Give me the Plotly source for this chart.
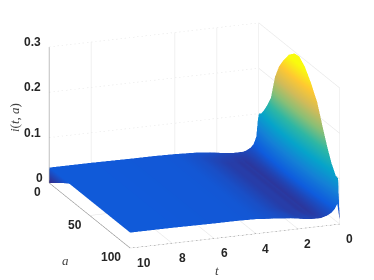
import plotly.graph_objects as go

t_vals = [0, .05, .12, .25, .4, .6, .75, .9, 1.05, 1.2, 1.5, 1.8, 2.3, 3, 4, 5, 6, 8, 9.98, 10]
a_vals = [0, 3, 6, 10, 15, 20, 25, 30, 37, 44, 50, 57, 64, 72, 80, 85, 90, 95, 98, 100]
i_vals = [
 [.100,.105,.115,.132,.157,.210,.240,.260,.283,.296,.298,.285,.262,.230,.177,.146,.119,.100,.098,.003],
 [.085,.090,.100,.115,.140,.180,.205,.222,.242,.252,.254,.243,.224,.197,.153,.127,.105,.090,.088,.022],
 [.050,.055,.062,.072,.087,.108,.122,.132,.143,.150,.150,.144,.133,.117,.094,.080,.068,.060,.056,.045],
 [.034,.036,.038,.042,.047,.054,.060,.064,.068,.071,.071,.068,.064,.058,.049,.044,.040,.037,.035,.034],
 [.027,.027,.027,.028,.030,.032,.033,.034,.036,.037,.037,.036,.035,.033,.030,.029,.028,.027,.027,.027],
 [.022,.020,.019,.018,.018,.018,.018,.019,.019,.019,.019,.019,.019,.019,.019,.019,.020,.021,.022,.022],
 [.020,.016,.014,.013,.013,.013,.013,.013,.013,.013,.013,.013,.013,.013,.013,.014,.015,.017,.019,.020],
 [.020,.014,.011,.009,.009,.009,.009,.009,.009,.009,.009,.009,.009,.009,.009,.010,.012,.015,.017,.018],
 [.020,.015,.013,.012,.012,.012,.012,.012,.012,.012,.012,.012,.012,.012,.012,.012,.013,.015,.017,.018],
 [.020,.014,.012,.010,.010,.010,.010,.010,.010,.010,.010,.010,.010,.010,.010,.011,.013,.016,.017,.018],
 [.021,.017,.015,.014,.014,.014,.014,.014,.014,.014,.014,.014,.014,.014,.014,.015,.016,.018,.019,.019],
 [.023,.018,.016,.014,.014,.014,.014,.014,.014,.014,.014,.014,.014,.014,.014,.015,.016,.018,.020,.021],
 [.027,.023,.020,.019,.019,.019,.019,.019,.019,.019,.019,.019,.019,.019,.019,.020,.022,.023,.024,.025],
 [.030,.027,.026,.026,.026,.026,.026,.026,.026,.026,.026,.026,.026,.026,.026,.026,.027,.027,.028,.028],
 [.032,.032,.032,.032,.032,.032,.032,.032,.032,.032,.032,.032,.032,.032,.032,.032,.032,.032,.032,.032],
 [.033,.033,.033,.033,.033,.033,.033,.033,.033,.033,.033,.033,.033,.033,.033,.033,.033,.033,.033,.033],
 [.033,.033,.033,.033,.033,.033,.033,.033,.033,.033,.033,.033,.033,.033,.033,.033,.033,.033,.033,.033],
 [.034,.034,.034,.034,.034,.034,.034,.034,.034,.034,.034,.034,.034,.034,.034,.034,.034,.034,.034,.034],
 [.034,.034,.034,.034,.034,.034,.034,.034,.034,.034,.034,.034,.034,.034,.034,.034,.034,.034,.034,.034],
 [.000,.004,.008,.014,.021,.028,.034,.034,.034,.034,.034,.034,.034,.034,.034,.034,.034,.034,.034,.034],
]
t_ticks = [0, 2, 4, 6, 8, 10]
t_wall_grid = [2, 4, 8]
a_ticks = [0, 50, 100]
z_ticks = [0, .1, .2, .3]
z_labels = ['0', '0.1', '0.2', '0.3']
parula = ['#352a87','#0f5cdd','#1481d6','#06a4ca','#2eb7a4','#87bf77','#d1bb59','#fec832','#f9fb0e']
cscale = [[k/8, c] for k, c in enumerate(parula)]

fig = go.Figure(go.Surface(x=t_vals, y=a_vals, z=list(map(list, zip(*i_vals))), colorscale=cscale,
    cmin=0, cmax=.28, showscale=False,
    lighting=dict(ambient=1, diffuse=0, specular=0, fresnel=0, roughness=1)))

def seg(x, y, z, color, dash='solid'):
    fig.add_trace(go.Scatter3d(x=x, y=y, z=z, mode='lines', showlegend=False, hoverinfo='skip',
                               line=dict(color=color, width=1, dash=dash)))

GRID = '#e4e4e4'
AXIS = '#7f7f7f'
for v in z_ticks[1:]:
    seg([10, 0], [0, 0], [v, v], GRID, 'dash')
    seg([0, 0], [0, 100], [v, v], GRID)
for v in t_wall_grid:
    seg([v, v], [0, 0], [0, .3], GRID)
seg([0, 0], [100, 100], [0, .3], GRID)
seg([0, 0], [0, 0], [0, .3], GRID)
for v in t_ticks:
    seg([v, v], [0, 100], [0, 0], GRID)
for v in a_ticks:
    seg([0, 10], [v, v], [0, 0], GRID)
seg([10, 10], [0, 0], [0, .3], AXIS)
seg([10, 10], [0, 100], [0, 0], AXIS)
seg([0, 10], [100, 100], [0, 0], AXIS, 'dash')

def ax(**k):
    d = dict(showbackground=False, showgrid=False, showline=False, zeroline=False, ticks='', showspikes=False,
             title='', showticklabels=False)
    d.update(k); return d

lab = dict(showarrow=False, font=dict(family='Liberation Sans', size=12, color='#262626'))
anns = []
for v, s in zip(z_ticks, z_labels):
    anns.append(dict(x=10, y=0, z=v, text=f'<b>{s}</b>', xshift=-17 if v else -10, yshift=5, **lab))
for v, sx in zip(a_ticks, [-12, -15, -19]):
    anns.append(dict(x=10, y=v, z=0, text=f'<b>{v}</b>', xshift=sx, yshift=-9, **lab))
for v in t_ticks:
    anns.append(dict(x=v, y=100, z=0, text=f'<b>{v}</b>', xshift=14 if v == 10 else 10, yshift=-15, **lab))

r = 1.28
c = (.0535, -.0098, -.0307)
title_font = dict(family='Liberation Serif', size=13, color='#404040')
paper = dict(xref='paper', yref='paper', showarrow=False, xanchor='center', yanchor='middle', font=title_font)
fig.update_layout(width=374, height=280, margin=dict(l=0, r=0, t=0, b=0), paper_bgcolor='white',
    scene=dict(domain=dict(x=[0, 1], y=[0, 1]),
        xaxis=ax(range=[0, 10]),
        yaxis=ax(range=[0, 100]),
        zaxis=ax(range=[0, .3]),
        annotations=anns,
        aspectmode='manual', aspectratio=dict(x=1.6, y=1.64, z=1.02),
        camera=dict(projection=dict(type='orthographic'),
                    eye=dict(x=.336*r+c[0], y=.891*r+c[1], z=.303*r+c[2]),
                    up=dict(x=0, y=0, z=1), center=dict(x=c[0], y=c[1], z=c[2]))),
    annotations=[
      dict(text='<i>i</i>(<i>t</i>, <i>a</i>)', x=14/374, y=1-117/280, textangle=-90, **paper),
      dict(text='<i>a</i>', x=65/374, y=1-260/280, **paper),
      dict(text='<i>t</i>', x=217/374, y=1-270/280, **paper),
    ])
fig.write_html("out.html", post_script="document.body.style.margin='0';", config=dict(displayModeBar=False))
